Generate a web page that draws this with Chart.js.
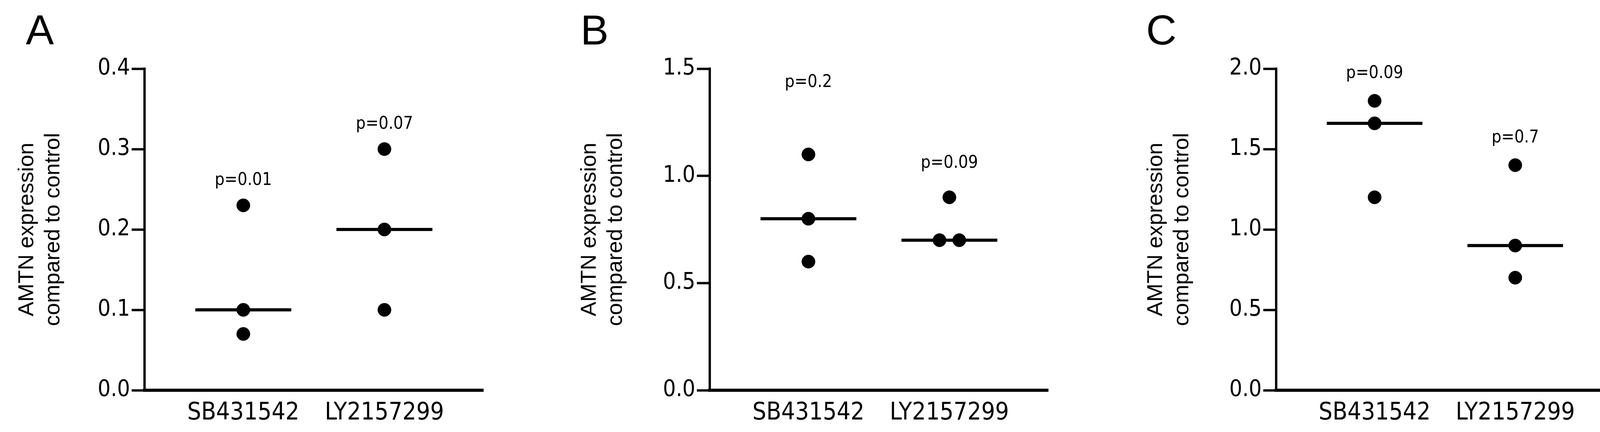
<!DOCTYPE html>
<html>
<head>
<meta charset="utf-8">
<script src="https://cdn.jsdelivr.net/npm/chart.js@4.4.1/dist/chart.umd.min.js"></script>
<style>
  body { margin: 0; background: #fff; width: 4152px; height: 1107px; position: relative; overflow: hidden; }
  .panel { position: absolute; top: 0; height: 1107px; }
  .letter { position: absolute; top: 14px; font: 108px "Liberation Sans", Arial, sans-serif; color: #000; }
</style>
</head>
<body>
<div class="letter" style="left:66px">A</div>
<div class="letter" style="left:1486px">B</div>
<div class="letter" style="left:2934px">C</div>
<div class="panel" style="left:0px;width:1300px"><canvas id="chartA"></canvas></div>
<div class="panel" style="left:1440px;width:1310px"><canvas id="chartB"></canvas></div>
<div class="panel" style="left:2890px;width:1262px"><canvas id="chartC"></canvas></div>
<script>
const categories = ['SB431542', 'LY2157299'];
const yTitle = ['AMTN expression', 'compared to control'];

// panel A
const aSB = [0.23, 0.1, 0.07];
const aLY = [0.3, 0.2, 0.1];
const aMedians = [0.1, 0.2];
const aPText = ['p=0.01', 'p=0.07'];
const aPY = [0.261, 0.331];

// panel B
const bSB = [1.1, 0.8, 0.6];
const bLY = [0.9, 0.7, 0.7];
const bLYJitter = [0, -0.07, 0.07];
const bMedians = [0.8, 0.7];
const bPText = ['p=0.2', 'p=0.09'];
const bPY = [1.436, 1.058];

// panel C
const cSB = [1.8, 1.66, 1.2];
const cLY = [1.4, 0.9, 0.7];
const cMedians = [1.66, 0.9];
const cPText = ['p=0.09', 'p=0.7'];
const cPY = [1.97, 1.57];

const noJitter = [0, 0, 0];
const tickFont = { family: "'Liberation Sans Narrow', 'DejaVu Sans Condensed', sans-serif", size: 58 };

const pLabels = {
    id: 'pLabels',
    afterDatasetsDraw(chart, args, opts) {
        const ctx = chart.ctx;
        const x = chart.scales.x, y = chart.scales.y;
        ctx.save();
        ctx.fillStyle = '#000';
        ctx.font = "44px 'Liberation Sans Narrow', 'DejaVu Sans Condensed', sans-serif";
        ctx.textAlign = 'center';
        ctx.textBaseline = 'middle';
        opts.text.forEach((t, i) => {
            ctx.fillText(t, x.getPixelForValue(i), y.getPixelForValue(opts.y[i]));
        });
        ctx.restore();
    }
};

function points(vals, idx, jitter) {
    return vals.map((v, k) => ({ x: idx + jitter[k], y: v }));
}

function medianLine(m, idx) {
    return [{ x: idx - 0.34, y: m }, { x: idx + 0.34, y: m }];
}

function makeChart(id, sb, ly, lyJitter, medians, yMax, yStep, yWidth, rightPad, pText, pY) {
    const dot = { type: 'scatter', pointRadius: 17, pointHoverRadius: 17, backgroundColor: '#000', borderColor: '#000' };
    const line = { type: 'line', borderColor: '#000', borderWidth: 8, pointRadius: 0, fill: false };
    new Chart(document.getElementById(id), {
        data: {
            datasets: [
                { ...line, data: medianLine(medians[0], 0) },
                { ...line, data: medianLine(medians[1], 1) },
                { ...dot, data: points(sb, 0, noJitter) },
                { ...dot, data: points(ly, 1, lyJitter) }
            ]
        },
        options: {
            responsive: false,
            animation: false,
            layout: { padding: { top: 176, right: rightPad, bottom: 0, left: 0 } },
            plugins: { legend: { display: false }, tooltip: { enabled: false }, pLabels: { text: pText, y: pY } },
            scales: {
                x: {
                    type: 'linear', min: -0.7, max: 1.7,
                    afterBuildTicks: s => { s.ticks = [{ value: 0 }, { value: 1 }]; },
                    afterFit: s => { s.height = 107; },
                    grid: { display: false },
                    border: { color: '#000', width: 8 },
                    ticks: { color: '#000', font: { ...tickFont, size: 62 }, padding: 14, callback: v => categories[v] }
                },
                y: {
                    min: 0, max: yMax,
                    afterFit: s => { s.width = yWidth; },
                    grid: { drawOnChartArea: false, color: '#000', tickLength: 33, tickWidth: 6 },
                    border: { color: '#000', width: 6 },
                    ticks: { stepSize: yStep, color: '#000', font: tickFont, padding: 4, callback: v => v.toFixed(1) },
                    title: {
                        display: true, text: yTitle, color: '#000',
                        font: { family: "'Liberation Sans', Arial, sans-serif", size: 56 },
                        padding: { top: 36, bottom: 0 }
                    }
                }
            }
        },
        plugins: [pLabels]
    });
}

function sizeCanvas(id, w) {
    const c = document.getElementById(id);
    c.width = w; c.height = 1107;
}
sizeCanvas('chartA', 1300);
sizeCanvas('chartB', 1310);
sizeCanvas('chartC', 1262);

makeChart('chartA', aSB, aLY, noJitter, aMedians, 0.4, 0.1, 370, 63, aPText, aPY);
makeChart('chartB', bSB, bLY, bLYJitter, bMedians, 1.5, 0.5, 377, 67, bPText, bPY);
makeChart('chartC', cSB, cLY, noJitter, cMedians, 2.0, 0.5, 377, 21, cPText, cPY);
</script>
</body>
</html>
